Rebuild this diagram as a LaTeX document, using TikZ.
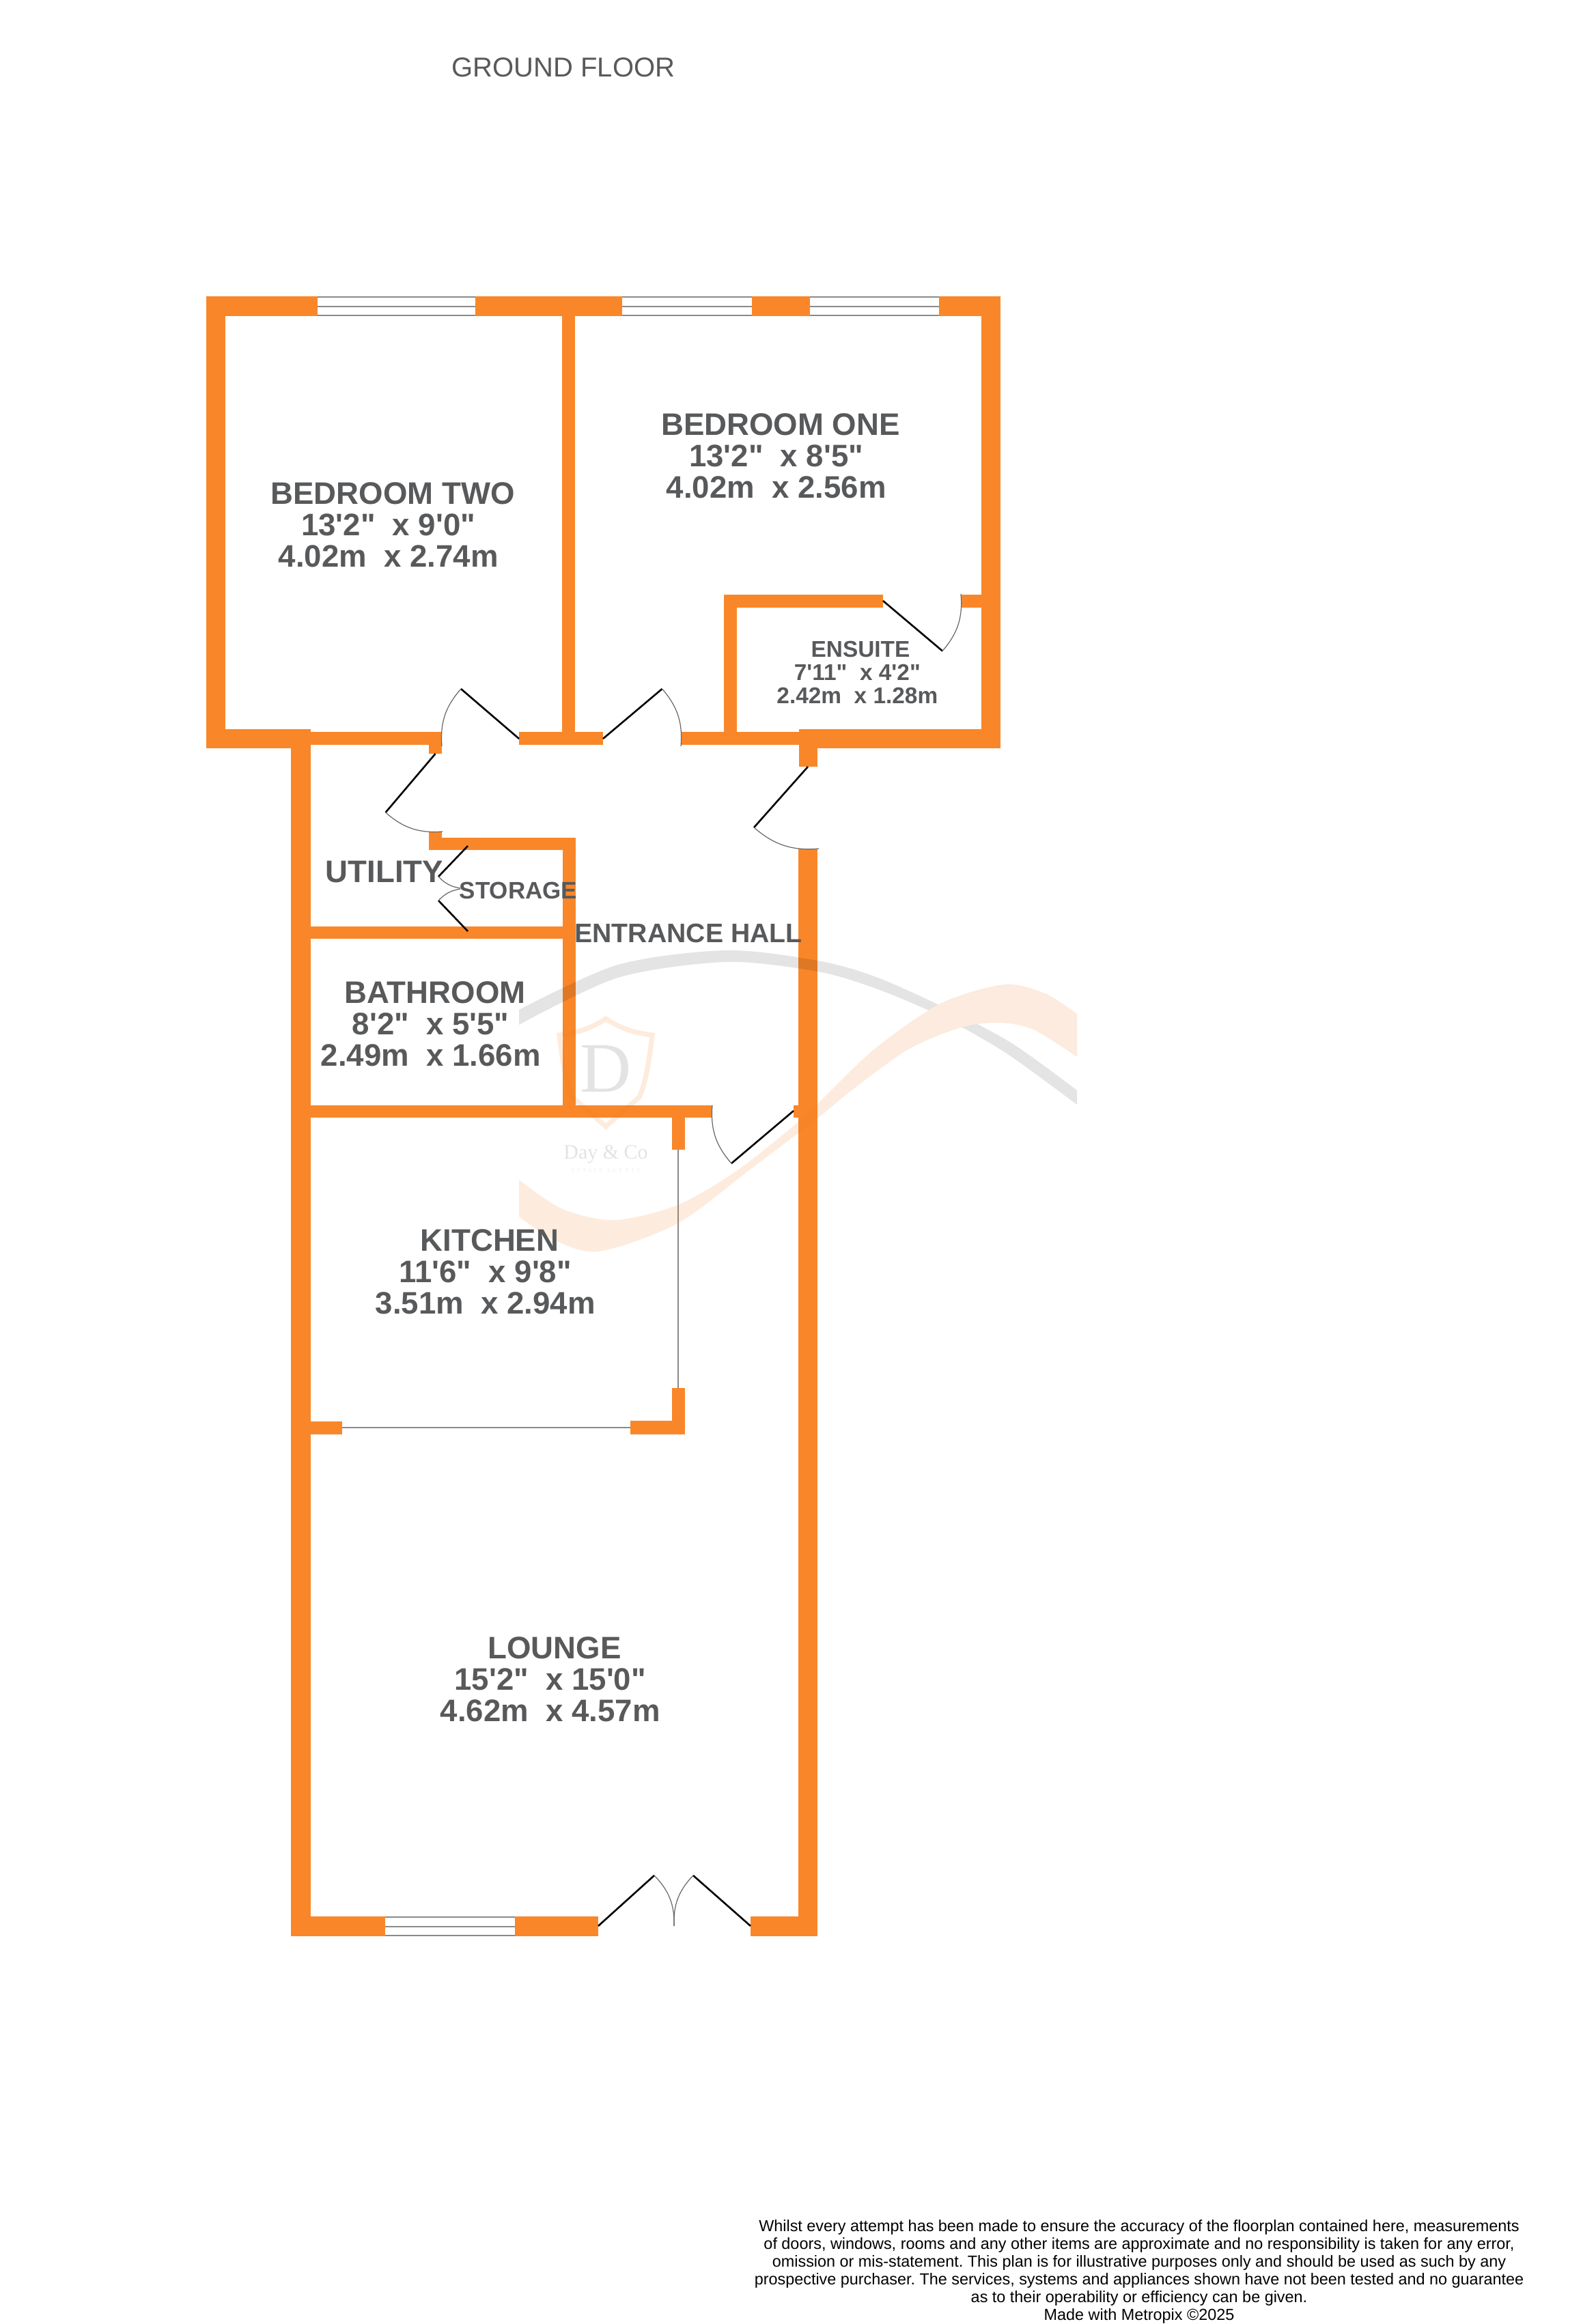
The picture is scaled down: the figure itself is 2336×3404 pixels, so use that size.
\documentclass[tikz,border=0pt]{standalone}
\usepackage{fontspec}
\newfontfamily\planfont{Liberation Sans}
\newfontfamily\logofont{Liberation Serif}
\newfontfamily\logospaced[LetterSpace=34]{Liberation Serif}
\definecolor{wallorange}{HTML}{F98729}
\definecolor{planGrey}{HTML}{58595B}
\definecolor{glazing}{HTML}{8A8A8A}
\definecolor{swooshpeach}{HTML}{F07818}
\newcommand{\peachband}{plot[smooth] coordinates {(760,1728) (822,1770) (899,1787) (992,1765) (1080,1714) (1168,1644) (1197,1617) (1280,1537) (1377,1470) (1470,1442) (1530,1455) (1577,1485)}
	-- plot[smooth] coordinates {(1577,1548) (1513,1508) (1463,1498) (1407,1505) (1330,1537) (1247,1597) (1197,1638) (1097,1714) (992,1792) (877,1833) (811,1816) (760,1782)} -- cycle}

\begin{document}
\begin{tikzpicture}[
		x=0.25pt, y=-0.25pt,
		wall/.style={fill=wallorange, draw=none},
		glass/.style={draw=glazing, line width=0.5pt},
		slider/.style={draw=glazing, line width=0.45pt},
		leaf/.style={draw=black, line width=0.65pt},
		swing/.style={draw=black!60, line width=0.3pt},
		greyband/.style={fill=black, fill opacity=0.105},
		peachfill/.style={fill=swooshpeach, fill opacity=0.14},
		room/.style={font=\planfont\bfseries\fontsize{11.4}{11.5}\selectfont, text=planGrey, inner sep=0pt, align=center},
		smallroom/.style={font=\planfont\bfseries\fontsize{8.35}{8.5}\selectfont, text=planGrey, inner sep=0pt, align=center}
	]
		\useasboundingbox (0,0) rectangle (2336,3404);

		\fill[wall] (302,434) rectangle (465,463);
		\fill[wall] (696,434) rectangle (911,463);
		\fill[wall] (1101,434) rectangle (1186,463);
		\fill[wall] (1375,434) rectangle (1465,463);
		\fill[wall] (302,434) rectangle (330,1096);
		\fill[wall] (823,434) rectangle (842,1091);
		\fill[wall] (1437,434) rectangle (1465,1096);
		\fill[wall] (302,1068) rectangle (454,1096);
		\fill[wall] (454,1072) rectangle (647,1091);
		\fill[wall] (628,1072) rectangle (647,1104);
		\fill[wall] (760,1072) rectangle (883,1091);
		\fill[wall] (997,1072) rectangle (1170,1091);
		\fill[wall] (1170,1068) rectangle (1465,1096);
		\fill[wall] (1170,1068) rectangle (1197,1123);
		\fill[wall] (1060,871) rectangle (1293,890);
		\fill[wall] (1060,871) rectangle (1079,1091);
		\fill[wall] (1407,871) rectangle (1437,890);
		\fill[wall] (426,1068) rectangle (455,2836);
		\fill[wall] (628,1218) rectangle (647,1245);
		\fill[wall] (628,1227) rectangle (843,1245);
		\fill[wall] (824,1227) rectangle (843,1637);
		\fill[wall] (455,1357) rectangle (824,1375);
		\fill[wall] (455,1619) rectangle (1043,1637);
		\fill[wall] (984,1619) rectangle (1003,1684);
		\fill[wall] (1162,1619) rectangle (1169,1637);
		\fill[wall] (1169,1243) rectangle (1197,2836);
		\fill[wall] (984,2033) rectangle (1003,2101);
		\fill[wall] (923,2081) rectangle (1003,2101);
		\fill[wall] (455,2082) rectangle (501,2101);
		\fill[wall] (426,2807) rectangle (564,2836);
		\fill[wall] (754,2807) rectangle (876,2836);
		\fill[wall] (1099,2807) rectangle (1197,2836);

		\foreach \xa/\xb/\ya/\yb in {465/696/434/463, 911/1101/434/463, 1186/1375/434/463, 564/754/2807/2836} {
			\draw[glass] (\xa,\ya+1) -- (\xb,\ya+1);
			\draw[glass] (\xa,{(\ya+\yb)/2}) -- (\xb,{(\ya+\yb)/2});
			\draw[glass] (\xa,\yb-1) -- (\xb,\yb-1);
		}

		\draw[slider] (993,1684) -- (993,2033);
		\draw[slider] (501,2091) -- (923,2091);

		\fill[greyband] plot[smooth] coordinates {(760,1479) (905,1413) (1064,1392) (1197,1407) (1280,1430) (1375,1472) (1480,1527) (1577,1597)}
			-- plot[smooth] coordinates {(1577,1618) (1480,1547) (1413,1507) (1360,1480) (1280,1447) (1197,1423) (1064,1409) (905,1432) (760,1501)} -- cycle;
		\begin{scope}
			\clip (1197,1400) rectangle (1577,1640);
			\fill[white] \peachband;
		\end{scope}
		\fill[peachfill] \peachband;
		\draw[draw=swooshpeach, draw opacity=0.14, line width=1.8pt, line join=miter]
			(887,1492) .. controls (860,1510) and (840,1513) .. (819,1516)
			.. controls (824,1560) and (830,1590) .. (838,1607) -- (887,1650) -- (936,1607)
			.. controls (944,1590) and (950,1560) .. (955,1516)
			.. controls (934,1513) and (914,1510) .. (887,1492) -- cycle;

		\node[font=\logofont\fontsize{26}{26}\selectfont, text=black!11, inner sep=0pt](logo-letter) at (887,1566){D};
		\node[font=\logofont\fontsize{7.5}{8}\selectfont, text=black!11, inner sep=0pt](logo-name) at (887,1691){Day \& Co};
		\node[font=\logospaced\fontsize{2.2}{3}\selectfont, text=black!6, inner sep=0pt](logo-trade) at (887,1715){ESTATE AGENTS};

		\draw[leaf] (760,1082) -- (675,1009);
		\draw[swing] (675,1009) to[bend right=23] (647,1093);
		\draw[leaf] (883,1082) -- (969.5,1009);
		\draw[swing] (969.5,1009) to[bend left=23] (997,1093);
		\draw[leaf] (1293,880) -- (1380,953.5);
		\draw[swing] (1380,953.5) to[bend right=23] (1407,870);
		\draw[leaf] (637.5,1104) -- (564.6,1190);
		\draw[swing] (564.6,1190) to[bend right=23] (648,1218);
		\draw[leaf] (1183,1123) -- (1104,1212);
		\draw[swing] (1104,1212) to[bend right=23] (1199,1243);
		\draw[leaf] (685,1239) -- (642,1284);
		\draw[swing] (642,1284) to[bend right=18] (674,1301);
		\draw[leaf] (685,1364) -- (642,1319);
		\draw[swing] (642,1319) to[bend left=18] (674,1302);
		\draw[leaf] (1162,1627) -- (1071,1704);
		\draw[swing] (1071,1704) to[bend left=23] (1043,1619);
		\draw[leaf] (876,2821) -- (958,2747);
		\draw[swing] (958,2747) to[bend left=23] (987,2821);
		\draw[leaf] (1099,2821) -- (1015,2747);
		\draw[swing] (1015,2747) to[bend right=23] (987,2821);

		\node[room](bedroom-two) at (575,769){BEDROOM TWO\\13'2"\ \ x 9'0"\mbox{\ }\\4.02m\ \ x 2.74m\mbox{\ }};
		\node[room](bedroom-one) at (1143,668){BEDROOM ONE\\13'2"\ \ x 8'5"\mbox{\ }\\4.02m\ \ x 2.56m\mbox{\ }};
		\node[smallroom](ensuite) at (1260,985){ENSUITE\\7'11"\ \ x 4'2"\mbox{\ }\\2.42m\ \ x 1.28m\mbox{\ }};
		\node[room](bathroom) at (637,1500){BATHROOM\\8'2"\ \ x 5'5"\mbox{\ }\\2.49m\ \ x 1.66m\mbox{\ }};
		\node[room](kitchen) at (717,1863){KITCHEN\\11'6"\ \ x 9'8"\mbox{\ }\\3.51m\ \ x 2.94m\mbox{\ }};
		\node[room](lounge) at (812,2460){LOUNGE\\15'2"\ \ x 15'0"\mbox{\ }\\4.62m\ \ x 4.57m\mbox{\ }};
		\node[room](utility) at (563,1277){UTILITY};
		\node[font=\planfont\bfseries\fontsize{8.75}{9}\selectfont, text=planGrey, inner sep=0pt](storage) at (759,1304){STORAGE};
		\node[font=\planfont\bfseries\fontsize{9.8}{11}\selectfont, text=planGrey, inner sep=0pt](entrance-hall) at (1008,1367){ENTRANCE HALL};
		\node[font=\planfont\fontsize{10}{12}\selectfont, text=planGrey, inner sep=0pt](floor-title) at (825,99){GROUND FLOOR};
		\node[font=\planfont\fontsize{5.85}{6.5}\selectfont\frenchspacing, inner sep=0pt, align=center](disclaimer) at (1668,3327){Whilst every attempt has been made to ensure the accuracy of the floorplan contained here, measurements\\of doors, windows, rooms and any other items are approximate and no responsibility is taken for any error,\\omission or mis-statement. This plan is for illustrative purposes only and should be used as such by any\\prospective purchaser. The services, systems and appliances shown have not been tested and no guarantee\\as to their operability or efficiency can be given.\\Made with Metropix ©2025};
	\end{tikzpicture}
\end{document}
